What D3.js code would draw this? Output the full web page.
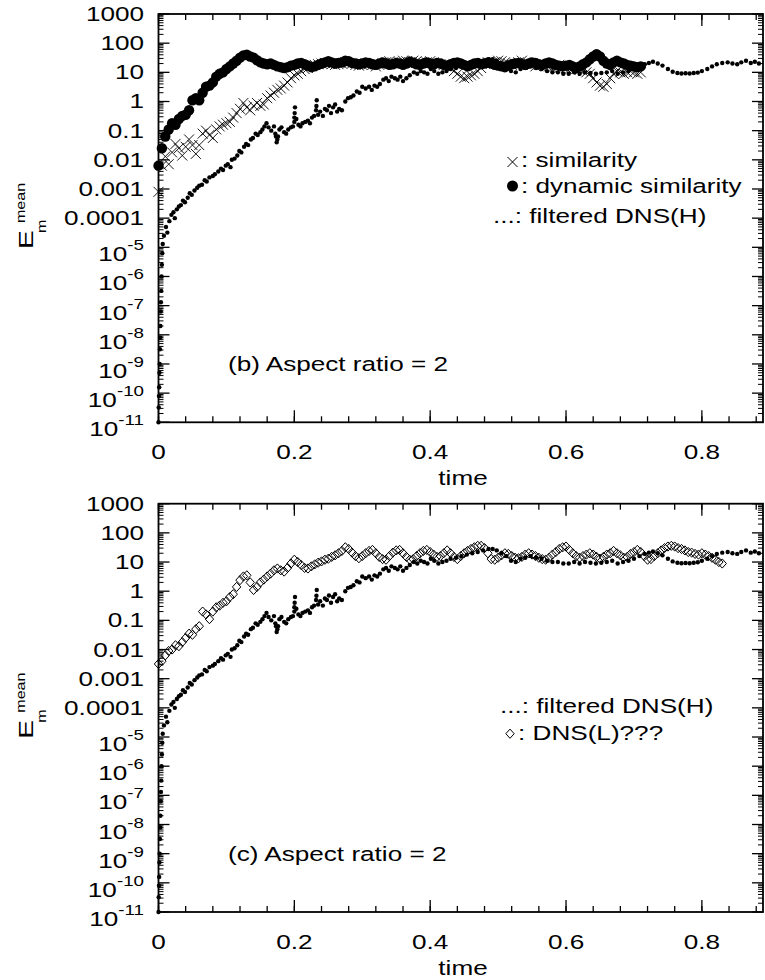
<!DOCTYPE html>
<html>
<head>
<meta charset="utf-8">
<script src="https://cdn.jsdelivr.net/npm/d3@7"></script>
<style>
  body { margin: 0; background: #fff; }
  svg { display: block; }
</style>
</head>
<body>
<div id="chart"></div>
<script>
// LES runs are written out every 0.005 time units
const lesStep = 0.005;

// (b) similarity model, crosses
const similarity = [
  0.0008, 0.0063, 0.013, 0.0071, 0.018, 0.035, 0.025, 0.014, 0.028, 0.05,
  0.032, 0.016, 0.032, 0.079, 0.1, 0.071, 0.056, 0.11, 0.14, 0.16,
  0.18, 0.2, 0.28, 0.4, 0.56, 0.89, 0.63, 0.5, 0.71, 0.89,
  0.71, 0.79, 1.3, 1.6, 2.0, 2.5, 2.8, 3.5, 4.5, 6.3,
  7.9, 8.9, 11, 13, 14, 17, 18, 19, 20, 21,
  20, 19, 18, 19, 20, 22, 21, 20, 18, 17,
  18, 20, 19, 18, 16, 18, 20, 22, 24, 22,
  20, 22, 25, 24, 22, 25, 24, 22, 20, 22,
  24, 22, 20, 19, 18, 16, 14, 11, 8.9, 7.1,
  6.3, 7.1, 7.9, 8.9, 11, 14, 20, 22, 20, 22,
  25, 24, 22, 20, 18, 20, 22, 25, 22, 20,
  18, 16, 18, 20, 18, 16, 14, 16, 18, 16,
  14, 13, 14, 13, 12, 11, 10, 8.9, 6.3, 4.5,
  3.5, 3.2, 4.0, 6.3, 8.9, 11, 10, 8.9, 10, 11,
  10, 8.9, 10
];

// (b) dynamic similarity model, filled circles
const dynamicSimilarity = [
  0.0063, 0.025, 0.063, 0.11, 0.18, 0.16, 0.25, 0.32, 0.35, 0.5,
  1.1, 1.3, 1.1, 2.0, 3.2, 3.5, 4.5, 7.1, 8.9, 10,
  13, 16, 20, 25, 32, 38, 40, 35, 32, 26,
  22, 20, 19, 20, 18, 16, 15, 14, 15, 17,
  18, 20, 21, 19, 17, 15, 16, 18, 20, 22,
  24, 22, 20, 21, 22, 25, 24, 21, 20, 19,
  20, 22, 21, 19, 18, 20, 22, 20, 18, 19,
  21, 20, 18, 20, 23, 21, 19, 18, 20, 22,
  20, 19, 21, 20, 18, 17, 19, 21, 22, 20,
  18, 16, 18, 20, 21, 19, 20, 22, 20, 18,
  17, 16, 15, 17, 19, 20, 21, 19, 18, 20,
  22, 21, 19, 18, 20, 22, 20, 18, 17, 16,
  17, 18, 16, 14, 16, 19, 22, 28, 35, 42,
  35, 25, 20, 18, 22, 25, 22, 20, 18, 17,
  16, 15, 16
];

// (c) DNS(L), open diamonds
const dnsL = [
  0.0032, 0.004, 0.0063, 0.0089, 0.01, 0.014, 0.013, 0.018, 0.025, 0.035,
  0.032, 0.05, 0.063, 0.2, 0.16, 0.11, 0.2, 0.28, 0.32, 0.4,
  0.45, 0.63, 0.79, 1.4, 2.4, 3.2, 3.5, 2.0, 1.1, 1.4,
  2.0, 2.5, 3.2, 4.0, 5.2, 6.0, 5.2, 4.7, 6.3, 8.9,
  12, 10, 7.9, 6.3, 6.0, 7.1, 8.3, 9.5, 10.5, 12,
  13, 15, 17, 20, 24, 32, 28, 21, 16, 13.5,
  16, 20, 24, 26, 20, 15, 12.6, 12, 16, 21,
  25, 26, 20, 15, 12, 12.6, 16, 20, 24, 26,
  22, 18, 15, 16, 20, 25, 20, 15, 12.6, 16,
  20, 24, 28, 32, 36, 36, 30, 20, 12.6, 12,
  14, 17, 20, 19, 16, 14, 13.5, 15, 18, 20,
  18, 16, 14, 12.6, 12, 14, 18, 22, 28, 32,
  34, 26, 20, 16, 14, 16, 18, 20, 18, 15,
  13, 15, 18, 20, 24, 20, 17, 14, 15, 19,
  22, 26, 22, 16, 12, 12.6, 16, 20, 25, 30,
  34, 36, 34, 30, 28, 25, 22, 21, 19, 18,
  20, 18, 16, 14, 12, 10, 8.9
];

// filtered DNS(H), small dots, [time, value]
const dnsH = [
  [0, 1e-11], [0.0003, 3.2e-11], [0.0007, 7.9e-11], [0.001, 1.6e-10], [0.0014, 5e-10],
  [0.0017, 1e-9], [0.0021, 3.2e-9], [0.0025, 7.9e-9], [0.0028, 2e-8], [0.0033, 6.3e-8],
  [0.0036, 1.3e-7], [0.004, 3.2e-7], [0.0045, 1e-6], [0.005, 2.5e-6], [0.0056, 6.3e-6],
  [0.0062, 1.3e-5], [0.008, 2.5e-5], [0.011, 5e-5], [0.013, 3.2e-5], [0.016, 7.9e-5],
  [0.019, 1.3e-4], [0.022, 1.6e-4], [0.024, 1e-4], [0.027, 2e-4], [0.03, 2.5e-4],
  [0.033, 2.8e-4], [0.036, 4e-4], [0.039, 3.5e-4], [0.043, 5e-4], [0.046, 7.1e-4],
  [0.049, 6.3e-4], [0.053, 8.9e-4], [0.057, 1.1e-3], [0.06, 1.3e-3], [0.064, 1.4e-3],
  [0.068, 2e-3], [0.071, 1.8e-3], [0.075, 2.5e-3], [0.08, 2.8e-3], [0.083, 3.2e-3],
  [0.088, 4e-3], [0.092, 5e-3], [0.095, 4.5e-3], [0.099, 6.3e-3], [0.102, 7.1e-3],
  [0.106, 5.6e-3], [0.108, 0.01], [0.112, 0.011], [0.116, 0.014], [0.119, 0.02],
  [0.122, 0.018], [0.126, 0.028], [0.129, 0.035], [0.132, 0.032], [0.136, 0.05],
  [0.139, 0.056], [0.143, 0.079], [0.146, 0.071], [0.15, 0.089], [0.153, 0.11],
  [0.156, 0.14], [0.159, 0.18], [0.162, 0.13], [0.166, 0.1], [0.17, 0.14],
  [0.172, 0.079], [0.173, 0.063], [0.174, 0.04], [0.175, 0.05], [0.176, 0.063],
  [0.178, 0.11], [0.181, 0.13], [0.185, 0.089], [0.188, 0.079], [0.191, 0.11],
  [0.195, 0.13], [0.198, 0.14], [0.2, 0.2], [0.2, 0.28], [0.2005, 0.4],
  [0.201, 0.63], [0.203, 0.25], [0.206, 0.16], [0.209, 0.14], [0.212, 0.18],
  [0.216, 0.2], [0.22, 0.22], [0.223, 0.18], [0.226, 0.28], [0.229, 0.32],
  [0.232, 0.5], [0.2325, 0.7], [0.233, 1.1], [0.235, 0.35], [0.238, 0.45],
  [0.242, 0.32], [0.245, 0.56], [0.248, 0.5], [0.251, 0.71], [0.254, 0.4],
  [0.257, 0.63], [0.26, 0.79], [0.263, 0.45], [0.266, 0.56], [0.27, 0.5],
  [0.275, 1.0], [0.279, 1.3], [0.283, 1.4], [0.287, 1.6], [0.292, 2.2],
  [0.296, 2.0], [0.3, 3.2], [0.305, 2.8], [0.31, 3.2], [0.314, 2.5],
  [0.318, 3.5], [0.322, 3.2], [0.326, 4.0], [0.331, 5.6], [0.335, 6.3],
  [0.339, 5.0], [0.343, 7.1], [0.348, 6.3], [0.352, 5.6], [0.356, 7.1],
  [0.36, 5.0], [0.365, 6.3], [0.37, 7.9], [0.376, 10], [0.381, 8.9],
  [0.386, 11], [0.391, 10], [0.396, 8.9], [0.401, 13], [0.406, 11],
  [0.412, 8.9], [0.418, 10], [0.424, 11], [0.43, 13], [0.438, 14],
  [0.446, 16], [0.454, 18], [0.462, 20], [0.47, 22], [0.478, 25],
  [0.486, 28], [0.492, 28], [0.498, 25], [0.505, 20], [0.512, 16],
  [0.519, 11], [0.526, 10], [0.533, 13], [0.54, 14], [0.548, 16],
  [0.556, 14], [0.564, 13], [0.572, 11], [0.58, 10], [0.588, 10],
  [0.596, 8.9], [0.604, 8.9], [0.612, 10], [0.62, 8.9], [0.628, 10],
  [0.636, 9.5], [0.644, 8.9], [0.652, 9.5], [0.66, 10], [0.668, 11],
  [0.676, 8.9], [0.684, 10], [0.692, 11], [0.7, 13], [0.708, 16],
  [0.716, 19], [0.722, 21], [0.728, 23], [0.735, 20], [0.742, 17],
  [0.75, 13], [0.757, 10.5], [0.764, 9.5], [0.77, 9.1], [0.776, 9.3],
  [0.782, 9.1], [0.788, 9.5], [0.794, 9.8], [0.8, 11], [0.808, 13],
  [0.815, 16], [0.822, 19], [0.83, 21], [0.838, 22], [0.845, 20],
  [0.852, 19], [0.858, 22], [0.865, 25], [0.872, 21], [0.878, 23],
  [0.884, 20]
];

const timeTicks = [0, 0.2, 0.4, 0.6, 0.8];
const timeTickLabels = ["0", "0.2", "0.4", "0.6", "0.8"];
const decadeExps = [3, 2, 1, 0, -1, -2, -3, -4, -5, -6, -7, -8, -9, -10, -11];
const decadeLabels = ["1000", "100", "10", "1", "0.1", "0.01", "0.001", "0.0001"];

const W = 765, H = 980;
const SX = 1.34;   // the original lettering is wide
const FS = 19.5;

const svg = d3.select("#chart").append("svg")
    .attr("width", W)
    .attr("height", H)
    .attr("font-family", "'Liberation Sans', Arial, Helvetica, sans-serif");

const x = d3.scaleLinear().domain([0, 0.89]).range([158.5, 763]);

const crossPath = "M-5,-5L5,5M-5,5L5,-5";
const diamondPath = "M0,-4.6L4.2,0L0,4.6L-4.2,0Z";

// wide text: stretched horizontally around its anchor
const wideText = (g, px, py, str, anchor = "start", size = FS) =>
    g.append("text")
        .attr("transform", `translate(${px},${py}) scale(${SX},1)`)
        .attr("text-anchor", anchor)
        .attr("font-size", size)
        .attr("fill", "#000")
        .text(str);

const panels = [
    { top: 14, bottom: 422.3, tag: "(b) Aspect ratio = 2" },
    { top: 503.7, bottom: 912, tag: "(c) Aspect ratio = 2" },
];

const drawDots = (g, y) => {
    g.append("g").selectAll("circle")
        .data(dnsH)
        .enter()
        .append("circle")
        .attr("cx", d => x(d[0]))
        .attr("cy", d => y(d[1]))
        .attr("r", 2.2)
        .attr("fill", "#000");
};

const drawAxes = (g, y, top, bottom) => {
    const [x0, x1] = x.range();
    const tickG = g.append("g").attr("stroke", "#000").attr("stroke-width", 1.3);

    // time ticks, top and bottom, pointing inward
    const minorT = d3.range(0, 0.889, 0.04);
    for (const t of minorT) {
        tickG.append("line").attr("x1", x(t)).attr("x2", x(t)).attr("y1", bottom).attr("y2", bottom - 6);
        tickG.append("line").attr("x1", x(t)).attr("x2", x(t)).attr("y1", top).attr("y2", top + 6);
    }
    for (const t of timeTicks) {
        tickG.append("line").attr("x1", x(t)).attr("x2", x(t)).attr("y1", bottom).attr("y2", bottom - 12);
        tickG.append("line").attr("x1", x(t)).attr("x2", x(t)).attr("y1", top).attr("y2", top + 12);
    }

    // log ticks, left and right
    for (let e = -11; e < 3; e++) {
        for (let k = 2; k < 10; k++) {
            const yy = y(k * Math.pow(10, e));
            tickG.append("line").attr("x1", x0).attr("x2", x0 + 5).attr("y1", yy).attr("y2", yy).attr("stroke-width", 1);
            tickG.append("line").attr("x1", x1).attr("x2", x1 - 5).attr("y1", yy).attr("y2", yy).attr("stroke-width", 1);
        }
    }
    for (const e of decadeExps) {
        const yy = y(Math.pow(10, e));
        tickG.append("line").attr("x1", x0).attr("x2", x0 + 11).attr("y1", yy).attr("y2", yy);
        tickG.append("line").attr("x1", x1).attr("x2", x1 - 11).attr("y1", yy).attr("y2", yy);
    }

    g.append("rect")
        .attr("x", x0).attr("y", top)
        .attr("width", x1 - x0).attr("height", bottom - top)
        .attr("fill", "none").attr("stroke", "#000").attr("stroke-width", 1.8);

    // tick labels
    timeTicks.forEach((t, i) => wideText(g, x(t), bottom + 37, timeTickLabels[i], "middle"));
    decadeExps.forEach((e, i) => {
        const yy = y(Math.pow(10, e));
        if (i < decadeLabels.length) {
            wideText(g, 144, yy + 7, decadeLabels[i], "end");
        } else {
            const txt = wideText(g, 144, yy + 14, "", "end");
            txt.append("tspan").text("10");
            txt.append("tspan").attr("dy", -11).attr("font-size", 14).text(String(e));
        }
    });

    wideText(g, 463, bottom + 63, "time", "middle");

    // rotated y title: E_m^mean
    const lab = g.append("g")
        .attr("transform", `translate(33,${top + 235}) rotate(-90) scale(${SX},1)`)
        .attr("fill", "#000");
    lab.append("text").attr("font-size", 21).text("E");
    lab.append("text").attr("x", 12).attr("y", 13).attr("font-size", 12).text("m");
    lab.append("text").attr("x", 19.4).attr("y", -8).attr("font-size", 12).text("mean");
};

// ---------- panel (b) ----------
{
    const p = panels[0];
    const g = svg.append("g");
    const y = d3.scaleLog().domain([1e-11, 1e3]).range([p.bottom, p.top]);

    drawDots(g, y);

    g.append("g").selectAll("circle")
        .data(dynamicSimilarity)
        .enter()
        .append("circle")
        .attr("cx", (d, i) => x(i * lesStep))
        .attr("cy", d => y(d))
        .attr("r", 5.2)
        .attr("fill", "#000");

    g.append("g").selectAll("path")
        .data(similarity)
        .enter()
        .append("path")
        .attr("d", crossPath)
        .attr("transform", (d, i) => `translate(${x(i * lesStep)},${y(d)})`)
        .attr("fill", "none")
        .attr("stroke", "#000")
        .attr("stroke-width", 0.9);

    drawAxes(g, y, p.top, p.bottom);

    // legend
    g.append("path").attr("d", crossPath)
        .attr("transform", `translate(512.5,${p.top + 148})`)
        .attr("fill", "none").attr("stroke", "#000").attr("stroke-width", 1);
    wideText(g, 521, p.top + 153, ": similarity");
    g.append("circle").attr("cx", 512.5).attr("cy", p.top + 172).attr("r", 5.5).attr("fill", "#000");
    wideText(g, 521, p.top + 179, ": dynamic similarity");
    wideText(g, 493, p.top + 209, "...: filtered DNS(H)");

    wideText(g, 228, p.top + 357, p.tag);
}

// ---------- panel (c) ----------
{
    const p = panels[1];
    const g = svg.append("g");
    const y = d3.scaleLog().domain([1e-11, 1e3]).range([p.bottom, p.top]);

    g.append("g").selectAll("path")
        .data(dnsL)
        .enter()
        .append("path")
        .attr("d", diamondPath)
        .attr("transform", (d, i) => `translate(${x(i * lesStep)},${y(d)})`)
        .attr("fill", "none")
        .attr("stroke", "#000")
        .attr("stroke-width", 1);

    drawDots(g, y);

    drawAxes(g, y, p.top, p.bottom);

    // legend
    wideText(g, 500, p.top + 209, "...: filtered DNS(H)");
    g.append("path").attr("d", diamondPath)
        .attr("transform", `translate(510,${p.top + 230})`)
        .attr("fill", "#fff").attr("stroke", "#000").attr("stroke-width", 1);
    wideText(g, 518, p.top + 236, ": DNS(L)???");

    wideText(g, 228, p.top + 357, p.tag);
}
</script>
</body>
</html>
